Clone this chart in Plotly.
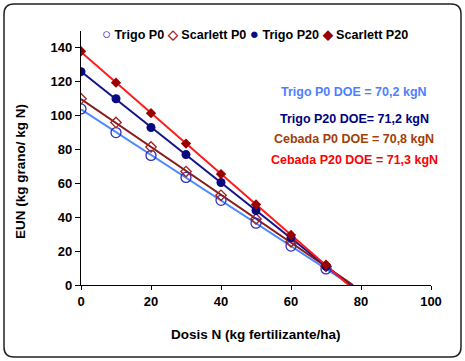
import numpy as np
import plotly.graph_objects as go

dosis = [0, 10, 20, 30, 40, 50, 60, 70]
trigo_p0 = [104, 90, 76.5, 63.5, 50, 36.5, 23, 9.5]
scarlett_p0 = [110, 96, 81.5, 67, 53, 39, 25.5, 11]
trigo_p20 = [126, 110, 93, 77, 60.5, 44, 28, 11]
scarlett_p20 = [138, 119.5, 101.5, 83.5, 65.5, 47.5, 29.5, 12]

doe_labels = ["Trigo P0 DOE = 70,2 kgN", "Trigo P20 DOE= 71,2 kgN",
              "Cebada P0 DOE = 70,8 kgN", "Cebada P20 DOE = 71,3 kgN"]

FONT = "Liberation Sans, Arial, sans-serif"

series = [
    ("Trigo P0", trigo_p0, "#4d88ff", dict(symbol="circle-open", size=10, color="#3030b0", line=dict(width=1.3))),
    ("Scarlett P0", scarlett_p0, "#8b1a1a", dict(symbol="diamond-open", size=8, color="#a02020", line=dict(width=1.3))),
    ("Trigo P20", trigo_p20, "#14148a", dict(symbol="circle", size=9, color="#0a0a80")),
    ("Scarlett P20", scarlett_p20, "#ff1a1a", dict(symbol="diamond", size=8, color="#9a0000")),
]

fig = go.Figure()
for name, ys, lc, mk in series:
    m, b = np.polyfit(dosis, ys, 1)
    root = -b / m
    xs = [0, root]
    fig.add_trace(go.Scatter(x=xs, y=[m * x + b for x in xs], mode="lines",
                             line=dict(color=lc, width=2), showlegend=False, hoverinfo="skip"))
for name, ys, lc, mk in series:
    fig.add_trace(go.Scatter(x=dosis, y=ys, mode="markers", marker=mk, name=name, showlegend=False))

L, R, T, B = 81, 34, 31, 76
W, H = 465, 361
pw, ph = W - L - R, H - T - B


def px(xp):
    return (xp - L) / pw


def py(yp):
    return (H - B - yp) / ph


# rounded frame
x0, x1, y0, y1, r = 4, 461, 4, 357, 10
path = (f"M {px(x0 + r)},{py(y0)} L {px(x1 - r)},{py(y0)} "
        f"Q {px(x1)},{py(y0)} {px(x1)},{py(y0 + r)} L {px(x1)},{py(y1 - r)} "
        f"Q {px(x1)},{py(y1)} {px(x1 - r)},{py(y1)} L {px(x0 + r)},{py(y1)} "
        f"Q {px(x0)},{py(y1)} {px(x0)},{py(y1 - r)} L {px(x0)},{py(y0 + r)} "
        f"Q {px(x0)},{py(y0)} {px(x0 + r)},{py(y0)} Z")
fig.add_shape(type="path", path=path, xref="paper", yref="paper",
              line=dict(color="#222222", width=1.5), layer="below")

legend_html = ("<span style='color:#3030b0;font-size:15px'>○</span> Trigo P0 "
               "<span style='color:#a02020'>◇</span> Scarlett P0 "
               "<span style='color:#0a0a80;font-size:15px'>●</span> Trigo P20 "
               "<span style='color:#9a0000'>◆</span> Scarlett P20")
fig.add_annotation(text=legend_html, xref="paper", yref="paper", x=px(100), y=py(33),
                   xanchor="left", yanchor="middle", showarrow=False,
                   font=dict(family=FONT, size=12.6, color="#000000", weight="bold"))

doe_colors = ["#4d7fff", "#000080", "#a0400a", "#ff0000"]
doe_y = [92, 119, 139, 160]
for txt, c, yy in zip(doe_labels, doe_colors, doe_y):
    fig.add_annotation(text=txt, xref="paper", yref="paper", x=px(354), y=py(yy),
                       xanchor="center", yanchor="middle", showarrow=False,
                       font=dict(family=FONT, size=12.5, color=c, weight="bold"))

fig.add_annotation(text="EUN (kg grano/ kg N)", xref="paper", yref="paper", x=px(20), y=py(172),
                   xanchor="center", yanchor="middle", textangle=-90, showarrow=False,
                   font=dict(family=FONT, size=13.5, color="#000000", weight="bold"))
fig.add_annotation(text="Dosis N (kg fertilizante/ha)", xref="paper", yref="paper", x=px(256), y=py(334),
                   xanchor="center", yanchor="middle", showarrow=False,
                   font=dict(family=FONT, size=13.5, color="#000000", weight="bold"))

fig.update_layout(
    width=W, height=H, margin=dict(l=L, r=R, t=T, b=B),
    paper_bgcolor="white", plot_bgcolor="white", showlegend=False,
    font=dict(family=FONT, size=13, color="#000000"),
    xaxis=dict(range=[0, 100], tickvals=[0, 20, 40, 60, 80, 100], showgrid=False, zeroline=False,
               showline=True, linecolor="#000000", linewidth=1.2, ticks="outside", ticklen=4,
               tickcolor="#000000", tickfont=dict(family=FONT, size=13, weight="bold")),
    yaxis=dict(range=[0, 150], tickvals=[0, 20, 40, 60, 80, 100, 120, 140], showgrid=False, zeroline=False,
               showline=True, linecolor="#000000", linewidth=1.2, ticks="outside", ticklen=5,
               tickcolor="#000000", tickfont=dict(family=FONT, size=13, weight="bold")),
)

fig.write_html("out.html", config={"displayModeBar": False},
               post_script="document.body.style.margin='0';")
